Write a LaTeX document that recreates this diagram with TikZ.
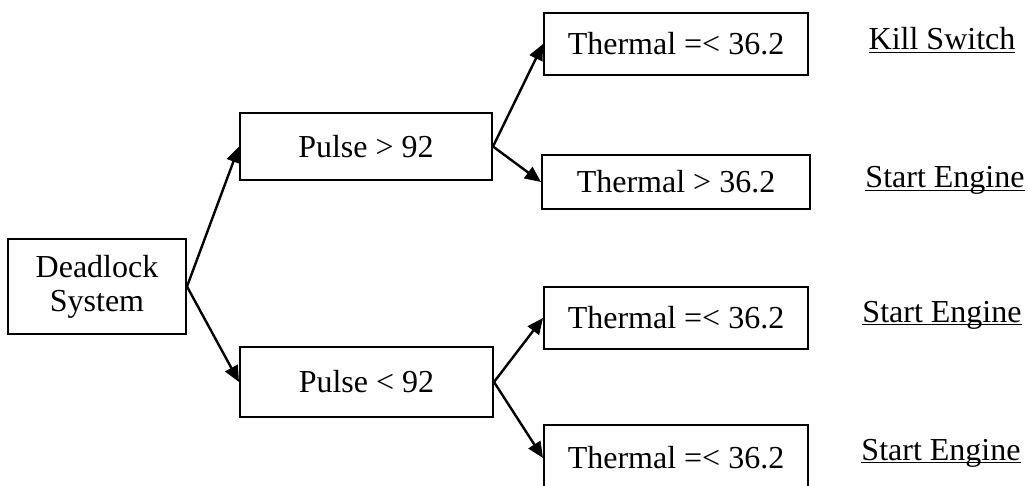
\documentclass[tikz,border=0pt]{standalone}
\usepackage{fontspec}
\setmainfont{Liberation Serif}
\usetikzlibrary{arrows.meta}
\newcommand\myuline[1]{\setbox0\hbox{#1}\rlap{\rule[-1.6pt]{\wd0}{0.75pt}}\box0}
\tikzset{
  box/.style={draw=black, line width=1pt, inner sep=0pt, align=center,
    font=\fontsize{16}{17}\selectfont},
  lbl/.style={anchor=base, inner sep=0pt, font=\fontsize{16}{17}\selectfont},
  conn/.style={line width=1.2pt, -{Triangle[length=8pt,width=7pt]}}
}
\begin{document}
\begin{tikzpicture}[x=0.5pt,y=-0.5pt]
\useasboundingbox (0,0) rectangle (1028,486);
\clip (0,0) rectangle (1028,486);
\node[box, minimum width=89pt, minimum height=47.5pt] (D) at (97,286.5) {\raisebox{-2pt}{Deadlock}\\\raisebox{-2pt}{System}};
\node[box, minimum width=126pt, minimum height=33.5pt] (P1) at (366,146.5) {Pulse > 92};
\node[box, minimum width=126.5pt, minimum height=35pt] (P2) at (366.5,382) {Pulse < 92};
\node[box, minimum width=132pt, minimum height=31pt] (T1) at (676,44) {Thermal =< 36.2};
\node[box, minimum width=134pt, minimum height=27pt] (T2) at (676,182) {Thermal > 36.2};
\node[box, minimum width=132pt, minimum height=31pt] (T3) at (676,318) {Thermal =< 36.2};
\node[box, minimum width=132pt, minimum height=33pt] (T4) at (676,458) {Thermal =< 36.2};
\node[lbl] (L1) at (942,50) {\myuline{Kill Switch}};
\node[lbl] (L2) at (945,188) {\myuline{Start Engine}};
\node[lbl] (L3) at (942,322) {\myuline{Start Engine}};
\node[lbl] (L4) at (941,460) {\myuline{Start Engine}};
\draw[conn] (D.east) -- (P1.west);
\draw[conn] (D.east) -- (P2.west);
\draw[conn] (P1.east) -- (T1.west);
\draw[conn] (P1.east) -- (T2.west);
\draw[conn] (P2.east) -- (T3.west);
\draw[conn] (P2.east) -- (T4.west);
\end{tikzpicture}
\end{document}
